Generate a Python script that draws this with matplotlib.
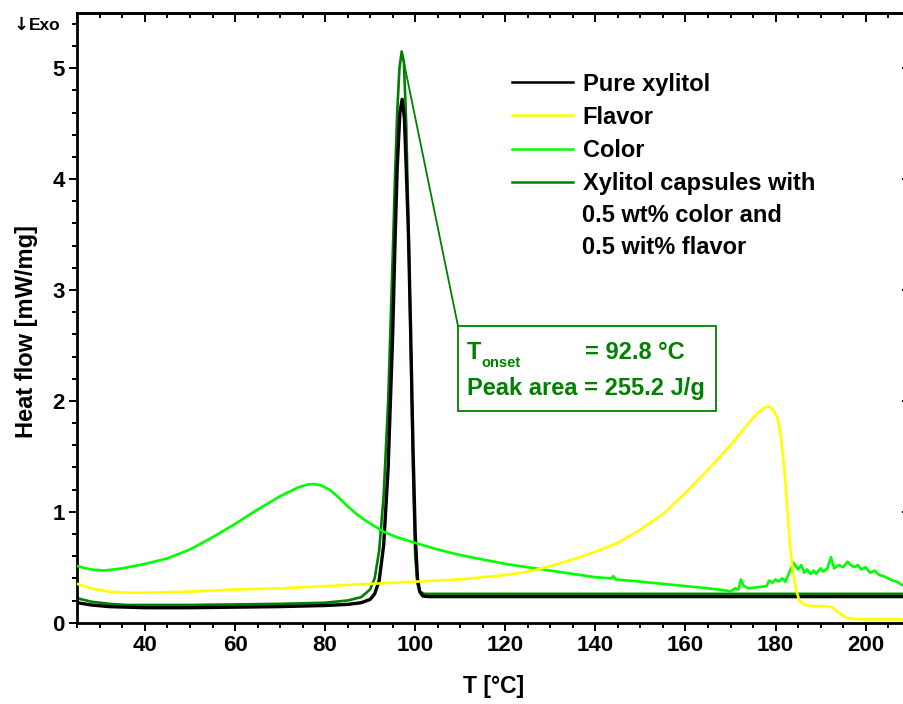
import numpy as np
import matplotlib.pyplot as plt
from matplotlib.patches import Rectangle
from matplotlib.ticker import MultipleLocator

plt.rcParams['font.family'] = ['Liberation Sans', 'DejaVu Sans']
plt.rcParams['font.weight'] = 'bold'
plt.rcParams['axes.labelweight'] = 'bold'

# DSC heat flow curves, T in degC, heat flow in mW/mg
t_pure = [25, 28, 32, 36, 40, 50, 60, 70, 80, 85, 88, 90, 91, 92, 93, 94, 95, 95.5, 96, 96.6,
          97.1, 97.6, 98, 98.5, 99, 99.5, 100, 100.5, 101, 101.7, 103, 120, 150, 180, 210]
hf_pure = [0.18, 0.16, 0.145, 0.14, 0.135, 0.135, 0.14, 0.145, 0.155, 0.165, 0.18, 0.21, 0.26, 0.38,
           0.7, 1.4, 2.6, 3.4, 4.1, 4.6, 4.72, 4.55, 4.1, 3.5, 2.6, 1.6, 0.8, 0.4, 0.28, 0.24,
           0.235, 0.235, 0.235, 0.235, 0.235]

t_flavor = [25, 28, 32, 36, 40, 50, 60, 70, 80, 90, 100, 110, 120, 125, 130, 135, 140, 145, 150,
            155, 160, 165, 170, 174, 176, 177.5, 178.5, 179.5, 180.5, 181.2, 181.8, 182.4, 183,
            183.7, 184.5, 185.3, 186.5, 188, 191, 192.5, 194, 195.5, 197, 200, 210]
hf_flavor = [0.35, 0.31, 0.28, 0.27, 0.27, 0.28, 0.30, 0.31, 0.33, 0.35, 0.37, 0.39, 0.43, 0.46,
             0.51, 0.57, 0.64, 0.72, 0.84, 0.98, 1.17, 1.38, 1.60, 1.80, 1.89, 1.94, 1.95, 1.92,
             1.84, 1.68, 1.45, 1.15, 0.80, 0.50, 0.30, 0.20, 0.16, 0.15, 0.15, 0.14, 0.09, 0.05,
             0.035, 0.03, 0.03]

t_color = [25, 28, 31, 35, 40, 45, 50, 55, 60, 65, 70, 74, 76, 77.5, 79, 81, 83, 85, 87, 89, 91,
           93, 96, 100, 105, 110, 115, 120, 125, 130, 135, 140, 143.5, 144, 144.5, 150, 155, 160,
           165, 169, 170, 171, 171.8, 172.3, 173, 174, 176, 178, 178.6, 179.3, 180, 180.7, 181.5,
           182.2, 183, 184, 185, 185.7, 186.4, 187, 187.8, 188.5, 189, 190, 190.6, 191.5, 192.3,
           193, 194, 195, 196, 196.7, 197.5, 198.3, 199, 200, 201, 202, 203, 204, 205, 206, 207,
           208, 209, 210]
hf_color = [0.51, 0.48, 0.47, 0.49, 0.53, 0.58, 0.66, 0.77, 0.89, 1.02, 1.14, 1.22, 1.245, 1.25,
            1.24, 1.2, 1.13, 1.05, 0.98, 0.92, 0.87, 0.82, 0.77, 0.72, 0.66, 0.61, 0.57, 0.53,
            0.50, 0.47, 0.44, 0.41, 0.40, 0.42, 0.39, 0.37, 0.35, 0.33, 0.31, 0.29, 0.28, 0.31,
            0.30, 0.39, 0.33, 0.31, 0.32, 0.33, 0.38, 0.36, 0.39, 0.37, 0.40, 0.37, 0.45, 0.54,
            0.48, 0.52, 0.45, 0.48, 0.44, 0.47, 0.44, 0.49, 0.46, 0.49, 0.59, 0.49, 0.52, 0.50,
            0.55, 0.52, 0.50, 0.52, 0.48, 0.50, 0.45, 0.47, 0.43, 0.42, 0.40, 0.38, 0.37, 0.34,
            0.35, 0.34]

t_caps = [25, 28, 32, 36, 40, 50, 60, 70, 80, 85, 88, 90, 91, 92, 93, 94, 95, 95.5, 96, 96.5, 97,
          97.5, 98, 98.5, 99, 99.5, 100, 100.5, 101, 102, 120, 150, 180, 210]
hf_caps = [0.22, 0.19, 0.17, 0.16, 0.16, 0.16, 0.165, 0.17, 0.18, 0.2, 0.23, 0.3, 0.4, 0.65, 1.15,
           2.0, 3.3, 4.0, 4.6, 5.0, 5.15, 5.05, 4.5, 3.6, 2.5, 1.4, 0.6, 0.35, 0.28, 0.26, 0.26,
           0.26, 0.26, 0.26]

t_onset = 92.8
peak_area = 255.2

GREEN = '#008000'

fig = plt.figure(figsize=(9.04, 7.04), dpi=100)
ax = fig.add_axes([0.0856, 0.1155, 0.9218, 0.8663])

l_caps, = ax.plot(t_caps, hf_caps, color=GREEN, lw=1.9, zorder=2, label='Xylitol capsules with')
l_pure, = ax.plot(t_pure, hf_pure, color='black', lw=2.4, zorder=3, label='Pure xylitol')
l_color, = ax.plot(t_color, hf_color, color='#00ff00', lw=1.9, zorder=4, label='Color')
l_flavor, = ax.plot(t_flavor, hf_flavor, color='#ffff00', lw=1.9, zorder=5, label='Flavor')

ax.set_xlim(25, 210)
ax.set_ylim(0, 5.5)
ax.xaxis.set_major_locator(MultipleLocator(20))
ax.xaxis.set_minor_locator(MultipleLocator(5))
ax.yaxis.set_major_locator(MultipleLocator(1))
ax.yaxis.set_minor_locator(MultipleLocator(0.2))
for s in ax.spines.values():
    s.set_linewidth(2)
ax.tick_params(which='both', width=1.4, labelsize=16, direction='out')
ax.tick_params(which='major', length=5.5)
ax.tick_params(which='minor', length=3.5)

# top and right ticks point inwards
top = ax.secondary_xaxis('top')
right = ax.secondary_yaxis('right')
for sec, loc_major, loc_minor in ((top, 20, 5), (right, 1, 0.2)):
    axis = sec.xaxis if sec is top else sec.yaxis
    axis.set_major_locator(MultipleLocator(loc_major))
    axis.set_minor_locator(MultipleLocator(loc_minor))
    sec.tick_params(which='both', direction='in', width=1.4, labeltop=False, labelright=False)
    sec.tick_params(which='major', length=6.5)
    sec.tick_params(which='minor', length=3.5)
    for s in sec.spines.values():
        s.set_linewidth(2)

ax.set_xlabel('T [°C]', fontsize=16.5)
ax.xaxis.set_label_coords(0.5, -0.086)
ax.set_ylabel('Heat flow [mW/mg]', fontsize=17)
ax.yaxis.set_label_coords(-0.047, 0.478)

fig.text(14 / 904, 1 - 25 / 704, '↓', fontsize=13, family='DejaVu Sans', va='center', ha='left')
fig.text(29 / 904, 1 - 25 / 704, 'Exo', fontsize=12.5, va='center', ha='left')

# onset / peak area box, linked to the capsule peak
box_x0, box_y0, box_w, box_h = 109.5, 1.91, 57.3, 0.765
ax.add_patch(Rectangle((box_x0, box_y0), box_w, box_h, fill=False, edgecolor=GREEN,
                       lw=1.3, zorder=6))
i_pk = int(np.argmax(hf_caps))
ax.plot([t_caps[i_pk], box_x0], [hf_caps[i_pk], box_y0 + box_h], color=GREEN, lw=1.3,
        zorder=6)
ax.text(111.5, 2.378, 'T', color=GREEN, fontsize=17, va='baseline', zorder=7)
ax.text(114.7, 2.306, 'onset', color=GREEN, fontsize=10.5, va='baseline', zorder=7)
ax.text(137.7, 2.378, f'= {t_onset} °C', color=GREEN, fontsize=17, va='baseline', zorder=7)
ax.text(111.5, 2.054, f'Peak area = {peak_area} J/g', color=GREEN, fontsize=17,
        va='baseline', zorder=7)

leg = ax.legend(handles=[l_pure, l_flavor, l_color, l_caps], loc='upper left',
                bbox_to_anchor=(512 / 904, 1 - 72.5 / 704), bbox_transform=fig.transFigure,
                frameon=False, fontsize=17, borderpad=0, borderaxespad=0,
                handlelength=2.6, handletextpad=0.4, labelspacing=0.43)
for h in leg.get_lines():
    h.set_linewidth(1.8)
fig.text(582 / 904, 1 - 215 / 704, '0.5 wt% color and', fontsize=17, va='center')
fig.text(582 / 904, 1 - 248 / 704, '0.5 wit% flavor', fontsize=17, va='center')

fig.savefig('out.png', dpi=100)
